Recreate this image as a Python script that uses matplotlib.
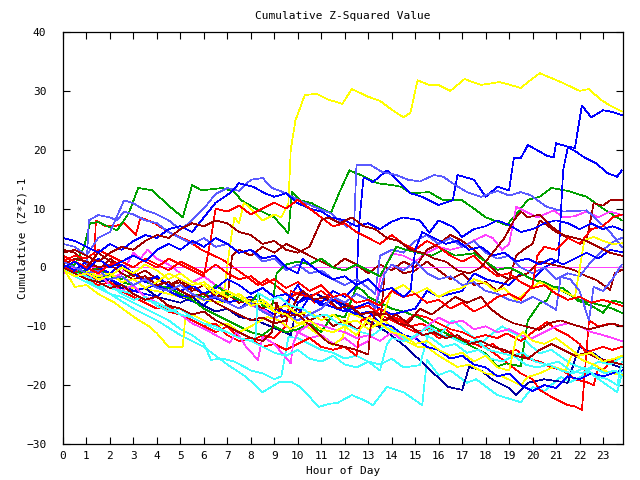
import matplotlib
matplotlib.use('Agg')
import matplotlib.pyplot as plt

RED = '#ff0000'; GREEN = '#00a000'; BLUE = '#0000ff'; MAGENTA = '#ff40ff'
CYAN = '#40ffff'; DKRED = '#a00000'; YELLOW = '#ffff00'; LTBLUE = '#5a5aff'; NAVY = '#0000a0'

TITLE = "Cumulative Z-Squared Value"
XLABEL = "Hour of Day"
YLABEL = "Cumulative (Z*Z)-1"
HOUR_TICKS = list(range(24))
VALUE_TICKS = list(range(-30, 41, 10))

# (hour, cumulative value) samples
Y1 = [(0,0),(0.5,-1),(1,-1.5),(2,-2.5),(3,-3.5),(4,-4),(5,-5),(6,-5.5),(6.8,-6),(7.1,3.4),(7.3,8.5),(7.5,7.5),(7.7,11),(8,10),(8.5,8),(9,9),(9.3,8.5),(9.6,10.9),(9.7,20),(9.9,25),(10.3,29.3),(10.8,29.5),(11.3,28.5),(11.9,27.8),(12.3,30.3),(13,29),(13.5,28.3),(14,26.8),(14.5,25.5),(14.8,26.3),(15.1,31.8),(15.6,31),(16,31),(16.5,30),(17.1,32),(17.8,31),(18.6,31.5),(19.5,30.5),(19.9,31.8),(20.3,33),(21.2,31.5),(22,30),(22.4,30.3),(22.9,28.5),(23.3,27.5),(23.8,26.5)]
B1 = [(0,0),(0.5,-1),(1,-2),(1.5,-1),(2,-3),(3,-4),(4,-5),(4.5,-3),(5,-5),(6,-6.5),(6.5,-4),(7,-6),(7.5,-7),(8,-5.5),(8.5,-7),(9,-8),(9.5,-6),(10,-3),(10.3,-5),(11,-6),(11.5,-4),(12,-5),(12.5,-3),(12.6,6.9),(12.8,15.3),(13.2,14.5),(13.8,16.5),(14.2,15),(14.8,12.6),(15.3,12),(16,10.6),(16.6,11.4),(16.8,15.7),(17.5,14.9),(18,12),(18.5,13.7),(19,13.1),(19.2,18.6),(19.5,18.6),(19.8,20.8),(20.6,19),(20.9,18.7),(21,21.1),(21.5,20.5),(21.8,20.3),(22.1,27.5),(22.5,25.5),(23,26.7),(23.3,26.5),(23.8,25.9)]
B2 = [(0,0),(1,-1.5),(2,-2),(3,-4),(4,-3),(5,-5),(6,-4.5),(7,-6),(8,-5),(9,-7),(10,-8),(10.5,-5),(11,-6),(12,-7.5),(13,-6),(14,-8),(15,-7),(15.5,-4),(16,-5),(17,-4),(17.5,-1),(18,-2),(19,-3),(19.5,-1),(20,-2),(20.5,0),(21.1,1.3),(21.3,16.5),(21.5,20.4),(21.8,19.8),(22.2,18.7),(22.7,17.7),(23.2,16),(23.6,15.4),(23.8,16.5)]
G1 = [(0,0),(0.5,0.5),(0.9,3.5),(1.15,7.5),(1.5,7.7),(2.3,6.3),(2.8,9.2),(3.2,13.5),(3.8,13.1),(4.5,10.5),(5.1,8.5),(5.5,14),(5.9,13.1),(6.8,13.5),(7.3,12.8),(7.6,11.4),(8.2,10),(9,8.5),(9.6,5.8),(9.75,12.8),(10.1,11.4),(10.6,10.9),(11.4,9.2),(11.8,13),(12.2,16.5),(12.8,15.5),(13.4,14.3),(14,14),(14.4,13.7),(14.8,12.6),(15.6,12.8),(16.2,11.4),(17,11.4),(17.5,10),(18,8.5),(18.9,7.2),(19.3,9),(19.8,11.5),(20.3,12),(20.8,13.5),(21.5,13),(22.3,12),(23,10),(23.8,8)]
LB1 = [(0,4),(0.5,3.5),(1,2),(1.5,5),(2,6),(2.6,11.4),(3,10.9),(3.5,9.7),(3.9,9.2),(4.5,8),(5,6.4),(5.5,8),(6,10),(6.5,12.5),(7,13.5),(7.5,13),(8,14.9),(8.5,15.2),(8.9,13.5),(9.5,12.6),(10,11.5),(10.7,10.3),(11.4,9.2),(12.1,6.9),(12.4,7.5),(12.5,17.4),(13.1,17.4),(13.6,16.2),(14.2,15.7),(14.7,14.9),(15.2,14.6),(15.8,15.7),(16.2,15.4),(16.7,14),(17.2,12.8),(17.8,12),(18.5,13),(19,12.2),(19.5,12.8),(19.9,12.3),(20.6,10.3),(21.3,9.5),(22.3,9.7),(22.9,7.5),(23.3,6),(23.8,3.5)]
LB2 = [(0,0.5),(0.5,-0.5),(1,0),(1.1,8),(1.5,8.9),(2,8.5),(2.3,8),(2.6,9.5),(3,9),(3.5,8),(4,7.5),(4.5,6),(5,5),(5.5,4),(6,5),(6.5,3.5),(7,4),(7.5,2.5),(8,3),(8.5,1),(9,1.5),(9.5,-0.5),(10,0.5),(10.5,-1),(11,-0.5),(11.5,-2),(12,-3),(12.5,-2),(13,-3.5),(13.3,-4.5),(13.5,2),(14,3),(14.5,2.5),(15,4.5),(15.5,5.5),(16,4),(16.5,5),(17,3.5),(17.5,4.5),(18,2.5),(18.5,1.5),(19,2),(19.5,0),(20,-1),(20.5,0),(21,-2),(21.5,-1),(22,-1.5),(22.5,1),(23,3),(23.5,4.5),(23.8,5)]
LB3 = [(0,1),(0.5,0),(1,-1),(1.5,-0.5),(2,-2),(2.5,-1.5),(3,-3),(3.5,-2),(4,-3.5),(4.5,-4),(5,-3),(5.5,-4.5),(6,-5.5),(6.5,-5),(7,-6),(7.5,-7),(8,-6),(8.5,-7.5),(9,-8.5),(9.5,-8),(10,-9),(10.5,-8),(11,-7),(11.5,-5),(12,-6),(12.5,-4.5),(13,-5.5),(13.3,-7),(13.7,-1),(14,0.5),(14.5,-0.5),(15,1),(15.5,-1),(16,-2),(16.5,-1.5),(17,-3),(17.5,-2.5),(18,-4),(18.5,-4.5),(19,-5.5),(19.5,-6),(20,-5),(20.5,-6),(21,-7.2),(21.2,-1.6),(21.6,-2),(22,-4),(22.4,-9),(22.6,-3.3),(23,-4),(23.4,-2),(23.8,0.5)]
DR1 = [(0,3),(0.5,2.5),(1,0.5),(1.5,-0.5),(2,1.5),(2.5,0),(3,-1),(3.5,-2),(4,-1.5),(4.5,-3),(5,-2.5),(5.5,-4),(6,-3),(6.5,-5),(7,-4.5),(7.5,-6),(8,-5.5),(8.5,-7),(9,-6),(9.5,-8),(10,-7),(10.5,-9),(11,-8),(11.5,-10),(12,-9),(12.5,-10.5),(13,-9.5),(13.5,-10),(13.7,-1),(14,0.5),(14.5,-1),(15,-0.5),(15.5,1),(16,-0.5),(16.5,-2),(17,-1),(17.5,-3),(18,-2.5),(18.5,-4),(19,-2),(19.3,2),(19.6,3),(20,4),(20.3,8),(20.5,7.5),(21,6),(21.5,5),(22,4),(22.3,4.6),(22.6,10.9),(23,10.5),(23.3,11.4),(23.8,11.5)]
DR2 = [(0,2),(0.5,1),(1,0),(1.5,2.5),(2,1),(2.5,0),(3,-1.5),(3.5,-0.5),(4,-2),(4.5,-3),(5,-2),(5.5,-3.5),(6,-4.5),(6.5,-4),(7,-5.5),(7.2,2),(7.5,3),(8,2),(8.5,3.5),(9,2.5),(9.5,4),(10,3),(10.5,2),(11,1),(11.5,0),(12,1.5),(12.5,0.5),(13,-1),(13.5,0.5),(14,-0.5),(14.5,1),(15,0),(15.5,3),(16,4),(16.5,5.5),(17,4.5),(17.5,3),(18,1),(18.5,-1),(19,-2),(19.8,-1),(20.3,1),(20.8,0.5),(21.3,0.1),(21.8,-0.5),(22.3,-1.5),(22.7,-2.1),(23.3,-3.8),(23.5,-1),(23.8,-0.4)]
G2 = [(0,0),(0.5,-0.5),(1,-1),(1.5,0),(2,-1.5),(2.5,-2),(3,-1),(3.5,-2.5),(4,-3),(4.5,-3.5),(5,-4.5),(5.5,-5.5),(6,-7),(6.5,-8),(7,-9),(7.5,-10),(8,-11),(8.5,-11.5),(9,-10),(9.5,-11),(10,-10.5),(10.5,-9.5),(11,-11),(11.5,-8),(12,-8.5),(12.5,-3.3),(12.8,-4),(13,-5),(13.5,-6),(14,-7),(14.5,-7.5),(15.2,-8.6),(15.8,-10.1),(16.6,-11.8),(17.2,-13),(18,-14.6),(18.5,-16.8),(18.9,-16.3),(19.5,-16.8),(19.6,-14),(19.8,-9),(20.3,-6.1),(20.6,-5.6),(20.9,-3.3),(21.3,-3.5),(21.9,-5.6),(22.5,-6.5),(23,-7.7),(23.4,-5.6),(23.8,-6)]
G3 = [(0,0),(0.5,-1),(1,-0.5),(1.5,-2),(2,-1),(2.5,-2.5),(3,-3),(3.5,-2),(4,-3.5),(4.5,-4),(5,-3),(5.5,-4.5),(6,-5),(6.5,-3),(7,-4.5),(7.5,-5.5),(8,-6),(8.3,-4.5),(8.5,-6.5),(8.9,-7),(9.1,-1),(9.5,0.5),(10,1),(10.5,0.5),(11,1.5),(11.5,0),(12,-0.5),(12.5,0.5),(13,-0.5),(13.5,-1.5),(14.2,3.5),(14.6,3),(15.2,2.4),(15.7,2),(16.2,3),(16.7,2),(17.5,2.4),(18,1),(18.5,-0.4),(19,0),(19.5,-1),(20,-2.1),(20.5,-2.5),(21,-3.5),(21.5,-4.5),(22,-5.5),(22.5,-6),(23,-6.5),(23.4,-7),(23.8,-7.7)]
R1 = [(0,1.5),(0.5,0),(1,-1),(1.3,-2),(1.4,8),(1.8,7),(2.2,7),(2.6,7.5),(3.1,5.5),(3.3,8.5),(3.9,7.5),(4.5,6),(5.3,4.6),(5.9,3),(6.8,1.3),(7.3,-0.1),(7.8,-1.5),(8.3,-3),(8.7,-2),(9.2,-3.5),(9.7,-5),(10.2,-4),(10.7,-6),(11.2,-5.5),(11.7,-7),(12.2,-6.5),(12.7,-8),(13.2,-7.5),(13.7,-9),(14.2,-8.5),(14.8,-10),(15.3,-9.5),(15.8,-11),(16.3,-10.5),(16.8,-12),(17.3,-12.5),(17.8,-13.5),(18.3,-13),(18.8,-14.5),(19.3,-14),(19.8,-15.5),(20.3,-16),(20.8,-17),(21.3,-17.5),(21.8,-19),(22.3,-19.5),(22.6,-20),(22.8,-17),(23,-17.5),(23.3,-16),(23.8,-15)]
R2 = [(0,0),(0.5,-1.5),(1,-1),(1.5,-2.5),(2,-3.5),(2.5,-3),(3,-4.5),(3.5,-5.5),(4,-6),(4.5,-7.5),(5,-8),(5.5,-9),(6,-10),(6.5,-11),(7,-10),(7.5,-12),(8,-12.5),(8.5,-11.5),(9,-12),(9.5,-10),(9.7,-4),(10,-4.5),(10.5,-5),(11,-4),(11.5,-5.5),(12,-6),(12.5,-7),(13,-6.5),(13.5,-8),(14,-9),(14.5,-10),(15,-11),(15.5,-10.5),(16,-12),(16.5,-11.5),(17,-12.5),(17.5,-13),(18,-13.5),(18.5,-15),(19,-16.5),(19.5,-18),(20,-19),(20.3,-20.8),(20.8,-22),(21.5,-23.4),(21.8,-23.6),(22.1,-24.2),(22.4,-9),(22.8,-10),(23.3,-9.5),(23.8,-10)]
R3 = [(0,0),(0.5,-0.5),(1,-2),(1.5,-3),(2,-2.5),(2.5,-4),(3,-5),(3.5,-6),(4,-7),(4.5,-6.5),(5,-8),(5.5,-9),(6,-10),(6.5,-9.5),(7,-11.5),(7.5,-12.5),(8,-12),(8.5,-13.5),(9,-13),(9.5,-14),(10,-13),(10.5,-12),(11,-13.5),(11.5,-14),(12,-13.5),(12.5,-15),(12.7,-9),(13,-8.5),(13.5,-7),(14,-8.5),(14.5,-9.5),(15,-8),(15.5,-8.5),(16,-9.5),(16.5,-10.5),(17,-11),(17.5,-12),(18,-11.5),(18.5,-12),(18.9,-11.2),(19.5,-12.5),(20,-11),(20.6,-9.3),(21,-10.5),(21.5,-11.5),(22,-13),(22.3,-14.5),(22.6,-14),(23,-13.5),(23.4,-14),(23.8,-13.5)]
R4 = [(0,1),(0.5,2),(1,1.5),(1.5,3),(2,2),(2.5,1),(3,0),(3.5,1.5),(4,0.5),(4.5,-0.5),(5,1),(5.5,0),(6,-1),(6.5,0.5),(7,-1),(7.5,-2),(8,-1.5),(8.5,-3),(9,-2),(9.5,-3.5),(10,-2.5),(10.5,-4),(11,-3),(11.5,-5),(12,-4.5),(12.5,-6),(13,-5.5),(13.5,-6.5),(14,-4),(14.5,-5),(15,-4.5),(15.5,-6),(16,-5.5),(16.5,-7),(17,-6),(17.5,-7.5),(18,-6.5),(18.5,-5),(19,-4.5),(19.5,-5.5),(20,-3),(20.2,2),(20.5,3.5),(21,3),(21.5,5),(22,4),(22.5,6.5),(23,7),(23.4,8.5),(23.8,9)]
R5 = [(0,2),(0.5,1),(1,0),(1.5,-1),(2,0.5),(2.5,1),(3,2),(3.5,1),(4,0),(4.5,1.5),(5,0.5),(5.5,-0.5),(6,-1.5),(6.3,5),(6.5,10),(7,9.5),(7.5,10.5),(8,9),(8.5,10),(9,11),(9.5,10),(10,11.5),(10.5,10),(11,8.5),(11.5,7),(12,7.5),(12.5,6),(13,5),(13.5,4),(14,5.5),(14.5,4),(15,3),(15.5,4.5),(16,3.5),(16.5,2),(17,1),(17.5,2),(18,0),(18.5,-1.5),(19,-1),(19.5,-2.5),(20,-3.5),(20.5,-3),(21,-4.5),(21.5,-5.5),(22,-5),(22.5,-6),(23,-5.5),(23.8,-6.5)]
DR3 = [(0,0.5),(0.5,1.5),(1,1),(1.5,0),(2,0.5),(2.5,-1),(3,-2),(3.5,-1.5),(4,-3),(4.5,-2.5),(5,-4),(5.5,-5),(6,-4.5),(6.5,-6),(7,-7),(7.5,-8),(8,-9),(8.5,-8.5),(9,-9.5),(9.5,-9),(10,-5),(10.2,-4),(10.7,-5.5),(11.2,-5),(11.7,-7),(12.2,-6.5),(12.7,-8),(13.2,-7.5),(13.7,-9),(14.2,-8),(14.7,-9.5),(15.2,-7),(15.7,-8),(16.2,-6.5),(16.7,-5),(17.2,-6),(17.8,-5),(18.2,-7),(18.7,-8.5),(19.2,-9.5),(19.7,-10),(20.3,-10.6),(20.7,-9.5),(21.2,-9),(21.8,-9.8),(22.4,-10.5),(22.9,-10),(23.4,-9.5),(23.8,-10)]
DR4 = [(0,0),(0.5,-1),(1,-2),(1.5,-2.5),(2,-3.5),(2.5,-3),(3,-4.5),(3.5,-5.5),(4,-5),(4.5,-6.5),(5,-7),(5.5,-8),(6,-7.5),(6.5,-9),(7,-10),(7.5,-11),(8,-12),(8.5,-12.5),(8.9,-11),(9.1,-6),(9.3,-8.4),(10,-8),(10.6,-10.1),(11.3,-12.8),(12,-13.5),(12.5,-14),(13,-14.8),(13.1,-10.1),(13.3,-7.8),(13.8,-8),(14.3,-9.5),(14.8,-10),(15.3,-11.5),(15.8,-11),(16.3,-12),(16.8,-11.5),(17.3,-13),(17.8,-12.5),(18.3,-13.5),(18.8,-14),(19.3,-15),(19.8,-15.5),(20.3,-14),(20.8,-13),(21.3,-14),(21.8,-15),(22.3,-14.5),(22.8,-15.5),(23.3,-16),(23.8,-16.5)]
DR5 = [(0,2.5),(0.5,3),(1,2),(1.5,1),(2,2.5),(2.5,3.5),(3,3),(3.5,4.5),(4,5.5),(4.5,5),(5,6.5),(5.5,7.5),(6,7),(6.5,8),(7,7.5),(7.5,6),(8,5.5),(8.5,4),(9,4.5),(9.5,3),(10,2.5),(10.5,3.5),(11,8),(11.3,8.5),(11.8,7.5),(12.3,8.5),(12.8,7),(13.3,6.5),(13.8,5),(14.3,4.5),(14.8,3),(15.3,2.5),(15.8,1.5),(16.3,1),(16.8,-0.5),(17.3,-1),(17.8,0),(18.3,2.5),(18.8,5),(19.2,8),(19.5,9.5),(19.8,8.5),(20.3,9),(20.8,7),(21.3,5.5),(21.8,5),(22.3,4.5),(22.8,3.5),(23.3,2.5),(23.8,2)]
ZERO = [(0,0),(23.85,0)]
M1 = [(0,-1),(0.5,0),(1,-1),(1.5,-0.5),(2,-2),(2.5,-1),(3,2.5),(3.3,1.5),(3.6,3),(4,1.5),(4.5,0.5),(5,-1),(5.5,-2.5),(6,-1.5),(6.5,-3),(7,-4),(7.5,-5),(8,-6.5),(8.5,-7),(9,-8.5),(9.5,-10),(10,-11),(10.5,-12),(11,-11.5),(11.5,-13),(12,-12),(12.5,-13.5),(13,-12.5),(13.3,-7.2),(13.5,-2),(14,2.4),(14.5,2),(15,1),(15.5,2.5),(16,3.5),(16.5,3),(17,3.5),(17.5,4.6),(18,5.5),(18.3,5),(18.7,3),(19,4),(19.3,10.3),(19.7,9.5),(20.2,8.5),(20.5,9),(20.9,9.7),(21.3,8.5),(21.8,8.7),(22.3,9.5),(22.8,8.5),(23.3,9.5),(23.8,8.9)]
M2 = [(0,0),(0.5,-1),(1,-2),(1.5,-1),(2,-3),(2.5,-4),(3,-3),(3.5,-5),(4,-6),(4.5,-7),(5,-8),(5.5,-9.5),(6.1,-10.6),(6.5,-11.5),(7.1,-12.8),(7.4,-11),(7.8,-13.5),(8.3,-15.7),(8.5,-11.8),(9,-13),(9.7,-16.3),(9.8,-13),(10,-11),(10.6,-9.4),(11,-9.8),(11.5,-10.5),(12,-11),(12.5,-12),(13,-11.5),(13.5,-12.5),(14,-11),(14.5,-12.5),(15,-12),(15.5,-10),(16,-8.5),(16.5,-9.5),(17,-9),(17.5,-10.5),(18,-10),(18.5,-11),(19,-10.5),(19.5,-11.5),(20,-12),(20.5,-11),(21,-10),(21.5,-9.5),(22,-10),(22.5,-11),(23,-11.5),(23.8,-12.5)]
B3 = [(0,0.5),(0.5,-0.5),(1,1),(1.5,0),(2,-1),(2.5,0.5),(3,-1),(3.5,-2.5),(4,-1.5),(4.5,-3),(5,-4),(5.5,-3),(6,-4.5),(6.5,-3.5),(7,-2),(7.5,-3),(8,-4.5),(8.5,-3.5),(9,-5),(9.5,-4.5),(10,-6),(10.5,-5),(11,-6.5),(11.5,-5.5),(12,-7),(12.5,-8),(13,-7.5),(13.5,-9.5),(14,-10),(14.5,-11.5),(15,-12),(15.5,-13.5),(16,-14),(16.5,-15.5),(17,-15),(17.5,-16.5),(18,-17),(18.5,-18.5),(19,-18),(19.5,-20),(20,-21),(20.5,-20),(21,-20.5),(21.5,-18.5),(22,-19),(22.5,-18),(23,-18.5),(23.8,-17.5)]
B4 = [(0,5),(0.5,4.5),(1,3.5),(1.5,2.5),(2,4),(2.5,3),(3,4.5),(3.5,5.5),(4,5),(4.5,6.5),(5,7),(5.5,6),(6,8.5),(6.5,11),(7.1,12.6),(7.5,14.3),(8.1,13.7),(8.6,12.6),(9,12),(9.5,12.6),(10,10.9),(10.5,10),(11,9.5),(11.4,8.5),(12,8),(12.5,7),(13,7.5),(13.5,6.5),(14,7.8),(14.5,8.5),(15.2,8),(15.6,5.9),(16,8),(16.6,6.9),(17,5.2),(17.5,6.5),(18,7),(18.5,8),(19,7.2),(19.5,6),(20,6.5),(20.5,7.5),(21,8),(21.5,7.5),(22,6.5),(22.5,7.5),(23,6.5),(23.4,7),(23.8,6.4)]
B5 = [(0,0),(0.5,1),(1,-0.5),(1.5,1.5),(2,0),(2.5,1),(3,2),(3.5,1),(4,3),(4.5,4),(5,3),(5.5,4.5),(6,3.5),(6.5,5),(7,4),(7.5,2.5),(8,3),(8.5,1.5),(9,2),(9.5,0),(10,-1),(10.2,1.5),(10.5,0.5),(11,-1),(11.5,-2),(12,-1.5),(12.5,-3),(13,-2),(13.5,-4),(14,-3.5),(14.5,-5),(14.8,-4),(15,3),(15.3,6),(15.8,5),(16.3,4),(16.8,4.5),(17.3,3),(17.8,3.5),(18.3,2),(18.8,2.5),(19.3,1),(19.8,1.5),(20.3,0.5),(20.8,1.5),(21.3,0.5),(21.8,1.5),(22.3,2.5),(22.8,1.5),(23.3,3),(23.8,2.6)]
NV = [(0,0),(0.5,-1),(1,-1.5),(1.5,-2.5),(2,-2),(2.5,-3.5),(3,-4),(3.5,-3.5),(4,-5),(4.5,-5.5),(5,-6),(5.5,-5),(6,-6.5),(6.5,-7.5),(7,-7),(7.5,-8.4),(8.2,-9),(8.9,-10.1),(9.7,-11.5),(10,-6),(10.3,-5),(10.8,-4.5),(11.3,-5.5),(11.8,-6),(12.3,-7),(12.8,-8.5),(13.2,-9.5),(13.8,-11),(14.6,-13.5),(15.5,-16.9),(16.4,-20.3),(17,-20.8),(17.3,-16.9),(17.8,-17.5),(18.3,-19.1),(19,-20.5),(19.3,-21.7),(19.8,-19.6),(20.5,-19),(21.5,-19.6),(21.8,-15.7),(22,-13.5),(22.6,-14.6),(23.2,-16.3),(23.8,-17)]
Y2 = [(0,0),(0.5,-3.3),(1,-3),(1.5,-4.5),(2.2,-6),(2.7,-7.5),(3.2,-8.9),(3.7,-10.1),(4,-11.2),(4.5,-13.5),(5.1,-13.5),(5.2,-8.9),(5.5,-8),(6,-9),(6.5,-10),(7,-9.5),(7.5,-11),(8,-10),(8.7,-8.4),(9.2,-9),(9.7,-10.5),(10.2,-9.5),(10.6,-10.6),(11.5,-13.2),(11.9,-12),(12.2,-7.8),(12.7,-8.5),(13.2,-10),(13.7,-9),(14.2,-11),(14.6,-12.5),(15.1,-13.5),(15.5,-13.5),(16,-15),(16.8,-16.9),(17.3,-16.5),(18,-18),(18.7,-18.5),(19.5,-20),(19.8,-18.6),(20.3,-18),(20.9,-16.9),(21.4,-17.5),(21.7,-14.6),(22.1,-15.7),(22.6,-16.5),(23.2,-17.8),(23.8,-18.3)]
Y3 = [(0,0),(0.5,1),(1,-0.5),(1.5,-1.5),(2,-1),(2.5,-2.5),(3,-2),(3.5,-3.5),(4,-2.5),(4.5,-1),(5,-2),(5.5,-3),(6,-2.5),(6.5,-4),(7,-5),(7.5,-4.5),(8,-6),(8.5,-5.5),(9,-7),(9.5,-6.5),(10,-8),(10.5,-7.5),(11,-9),(11.5,-8),(12,-9.5),(12.5,-9),(13,-10.5),(13.5,-9.5),(14,-4),(14.5,-3),(15,-4.5),(15.5,-3.5),(16,-5),(16.5,-4),(17,-3.5),(17.5,-2),(18,-2.7),(18.4,-4),(18.8,-3.5),(19.3,-5.6),(19.8,-4),(20.3,-2.5),(20.8,-3.5),(21.3,-4),(21.8,-5),(22,-0.4),(22.2,4.6),(22.6,5.2),(23,4.5),(23.4,4),(23.8,4.1)]
Y4 = [(0,-0.5),(0.5,-1.5),(1,-1),(1.5,-2),(2,-1.5),(2.5,0),(3,-1),(3.5,0.5),(4,-0.5),(4.5,-2),(5,-1),(5.5,-2.5),(6,-3),(6.5,-4.5),(7,-4),(7.5,-5),(8,-6.5),(8.5,-6),(9,-7.5),(9.5,-8),(10,-9.5),(10.5,-9),(11,-10.5),(11.5,-11),(12,-10),(12.5,-11.5),(13,-8.5),(13.5,-9.5),(14,-11),(14.5,-11.5),(15,-13),(15.5,-12.5),(16,-14),(16.5,-15),(17,-14.5),(17.5,-16),(18,-15),(18.5,-17),(19,-17.5),(19.3,-12),(19.6,-11),(20,-12.5),(20.5,-13),(21,-12),(21.5,-13.5),(22,-15),(22.5,-14.5),(23,-16),(23.5,-15.5),(23.8,-15)]
C1 = [(0,0),(0.5,-1.5),(1,-2.5),(2,-4.5),(3,-7),(4,-9),(5,-11.5),(6,-13.5),(7,-16.5),(7.8,-18.6),(8.5,-21.2),(9.2,-19.5),(9.7,-19.4),(10.1,-20.3),(10.9,-23.7),(11.3,-23.2),(11.7,-23.0),(12.3,-21.7),(12.8,-22.5),(13.2,-23.4),(13.8,-20.3),(14.5,-21.2),(15.3,-23.4),(15.5,-15.7),(16,-18.3),(16.5,-17.5),(17.2,-19.6),(17.6,-19),(18.5,-21.7),(19.5,-22.9),(20,-20.3),(20.5,-21),(21.2,-18.6),(21.6,-19.5),(22.4,-17.8),(23,-19.5),(23.6,-21.2),(23.8,-18)]
C2 = [(0,0),(0.5,-1.5),(1,-2.5),(1.5,-3),(2,-4.5),(2.5,-5),(3,-6),(3.5,-7),(4,-8),(4.5,-9),(5,-10.5),(5.5,-11.5),(6,-13),(6.3,-15.7),(6.8,-15.5),(7.3,-16),(8,-17.5),(8.5,-18),(9,-19),(9.3,-18.5),(9.6,-11.8),(10,-12),(10.5,-13),(11,-14),(11.5,-14.5),(12,-15.5),(12.5,-15),(13,-16),(13.5,-16.5),(14,-15.5),(14.5,-17),(15.2,-16.6),(15.6,-10.6),(16,-11.5),(16.6,-9),(17.2,-11),(17.8,-12.9),(18.2,-11.5),(18.7,-10),(19.1,-11),(19.5,-11.8),(20.3,-14.6),(20.8,-14),(21.6,-16.3),(22.3,-17.4),(22.8,-16),(23.3,-16.5),(23.8,-15.2)]
C3 = [(0,0),(0.5,-1),(1,-2),(1.5,-3.5),(2,-3),(2.5,-4.5),(3,-5.5),(3.5,-5),(4,-6.5),(4.5,-7.5),(5,-7),(5.5,-8.5),(6,-9.5),(6.5,-10),(7,-11),(7.5,-12),(8,-12.5),(8.5,-13.5),(9,-14.5),(9.5,-15),(10,-14),(10.5,-15.5),(11,-16),(11.5,-15),(12,-16.5),(12.5,-17),(13,-16),(13.5,-17.5),(13.8,-13),(14,-12),(14.5,-12.5),(15.2,-11.2),(15.7,-12),(16.2,-13.5),(16.7,-13),(17.2,-14.5),(17.7,-14),(18.2,-15.5),(18.7,-16),(19.2,-15),(19.7,-16.5),(20.2,-17),(20.7,-16.5),(21.2,-17.5),(21.7,-18),(22.2,-17),(22.7,-18.5),(23.2,-19),(23.6,-20),(23.8,-16)]
C4 = [(0,0),(0.5,-1),(1,-1.5),(1.5,-2.5),(2,-3.5),(2.5,-4),(3,-4.5),(3.5,-5.5),(4,-6),(4.5,-7),(5,-8),(5.5,-8.5),(6,-9.5),(6.5,-10.5),(7,-11),(7.5,-12),(8,-12.5),(8.2,-12),(8.3,-4.3),(8.8,-5.5),(9.2,-5),(9.7,-6.5),(10.2,-7),(10.7,-8.4),(11.2,-8),(11.7,-9.5),(12.2,-10),(12.7,-11),(13.2,-11.5),(13.7,-10),(14.2,-11),(14.7,-12.5),(15.2,-11),(15.6,-10),(16.1,-11.5),(16.6,-12),(17.1,-13),(17.6,-12.5),(18.1,-14),(18.6,-14.5),(19.1,-15),(19.6,-14.5),(20.1,-16),(20.6,-16.5),(21.1,-16),(21.6,-17.5),(22.1,-18),(22.6,-17),(23.1,-18),(23.5,-17.5),(23.8,-18.5)]

SERIES = [
    (R1, RED), (G1, GREEN), (B1, BLUE), (M1, MAGENTA), (C1, CYAN), (DR1, DKRED), (Y1, YELLOW),
    (LB1, LTBLUE), (NV, NAVY), (R2, RED), (G2, GREEN), (B2, BLUE), (ZERO, MAGENTA), (C2, CYAN),
    (DR2, DKRED), (Y2, YELLOW), (LB2, LTBLUE), (R3, RED), (G3, GREEN), (B3, BLUE), (M2, MAGENTA),
    (C3, CYAN), (DR3, DKRED), (Y3, YELLOW), (LB3, LTBLUE), (R4, RED), (B4, BLUE), (C4, CYAN),
    (DR4, DKRED), (Y4, YELLOW), (R5, RED), (B5, BLUE), (DR5, DKRED),
]

plt.rcParams['font.family'] = ['DejaVu Sans Mono']
fig = plt.figure(figsize=(6.4, 4.8), dpi=100)
ax = fig.add_axes([63/640, 36/480, 560/640, 412/480])
for pts, col in SERIES:
    xs = [p[0] for p in pts]
    ys = [p[1] for p in pts]
    ax.plot(xs, ys, color=col, lw=0.5, antialiased=False)

ax.set_xlim(0, 23.85)
ax.set_ylim(-30, 40)
ax.set_xticks(HOUR_TICKS)
ax.set_yticks(VALUE_TICKS)
ax.tick_params(direction='in', length=5, width=0.8, top=True, right=True, labelsize=8)
ax.tick_params(axis='y', pad=12)
ax.tick_params(axis='x', pad=5)
for s in ax.spines.values():
    s.set_linewidth(0.9)
ax.set_title(TITLE, fontsize=8, pad=9.5)
ax.set_xlabel(XLABEL, fontsize=8, labelpad=4)
ax.set_ylabel(YLABEL, fontsize=8, labelpad=-1)
fig.savefig('out.png', dpi=100)
